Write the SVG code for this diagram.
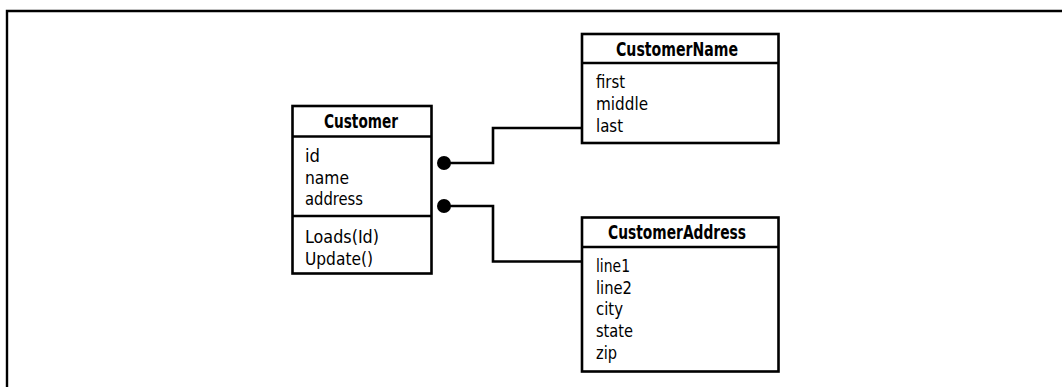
<svg xmlns="http://www.w3.org/2000/svg" width="1062" height="387" viewBox="0 0 1062 387">
  <style>
    .box { fill: #fff; stroke: #000; stroke-width: 2.6; }
    .div { stroke: #000; stroke-width: 2.6; }
    .wire { fill: none; stroke: #000; stroke-width: 2.6; }
    .dot { fill: #000; }
    text { font-family: "DejaVu Sans Condensed", "DejaVu Sans", sans-serif; font-stretch: condensed; font-size: 18.4px; fill: #000; }
    .title { font-weight: bold; font-size: 20px; }
  </style>
  <rect width="1062" height="387" fill="#fff"/>
  <!-- page frame -->
  <path d="M7,387 V11 H1062" fill="none" stroke="#000" stroke-width="2.4"/>

  <!-- associations -->
  <g id="connectors">
    <path class="wire" d="M444,163 H493 V128 H582"/>
    <circle class="dot" cx="444" cy="163" r="7"/>
    <path class="wire" d="M444,206 H493 V261.5 H582"/>
    <circle class="dot" cx="444" cy="206" r="7"/>
  </g>

  <g id="customer">
    <rect class="box" x="292.5" y="106" width="139" height="167.5"/>
    <line class="div" x1="292.5" y1="136.5" x2="431.5" y2="136.5"/>
    <line class="div" x1="292.5" y1="216" x2="431.5" y2="216"/>
    <text class="title" x="324" y="128" textLength="74" lengthAdjust="spacingAndGlyphs">Customer</text>
    <text x="305" y="162" textLength="15" lengthAdjust="spacingAndGlyphs">id</text>
    <text x="305" y="183.5" textLength="44" lengthAdjust="spacingAndGlyphs">name</text>
    <text x="305" y="205" textLength="58" lengthAdjust="spacingAndGlyphs">address</text>
    <text x="305" y="243" textLength="74" lengthAdjust="spacingAndGlyphs">Loads(Id)</text>
    <text x="305" y="265" textLength="68" lengthAdjust="spacingAndGlyphs">Update()</text>
  </g>

  <g id="customer-name">
    <rect class="box" x="582" y="34" width="196.5" height="109"/>
    <line class="div" x1="582" y1="63" x2="778.5" y2="63"/>
    <text class="title" x="616" y="56" textLength="122" lengthAdjust="spacingAndGlyphs">CustomerName</text>
    <text x="596" y="88" textLength="29" lengthAdjust="spacingAndGlyphs">first</text>
    <text x="596" y="110" textLength="52" lengthAdjust="spacingAndGlyphs">middle</text>
    <text x="596" y="131.5" textLength="27" lengthAdjust="spacingAndGlyphs">last</text>
  </g>

  <g id="customer-address">
    <rect class="box" x="582" y="217.5" width="196.5" height="154"/>
    <line class="div" x1="582" y1="247" x2="778.5" y2="247"/>
    <text class="title" x="608" y="238.5" textLength="138" lengthAdjust="spacingAndGlyphs">CustomerAddress</text>
    <text x="596" y="271.5" textLength="34" lengthAdjust="spacingAndGlyphs">line1</text>
    <text x="596" y="293.5" textLength="36" lengthAdjust="spacingAndGlyphs">line2</text>
    <text x="596" y="315" textLength="27" lengthAdjust="spacingAndGlyphs">city</text>
    <text x="596" y="336.5" textLength="37" lengthAdjust="spacingAndGlyphs">state</text>
    <text x="596" y="358.5" textLength="21" lengthAdjust="spacingAndGlyphs">zip</text>
  </g>
</svg>
